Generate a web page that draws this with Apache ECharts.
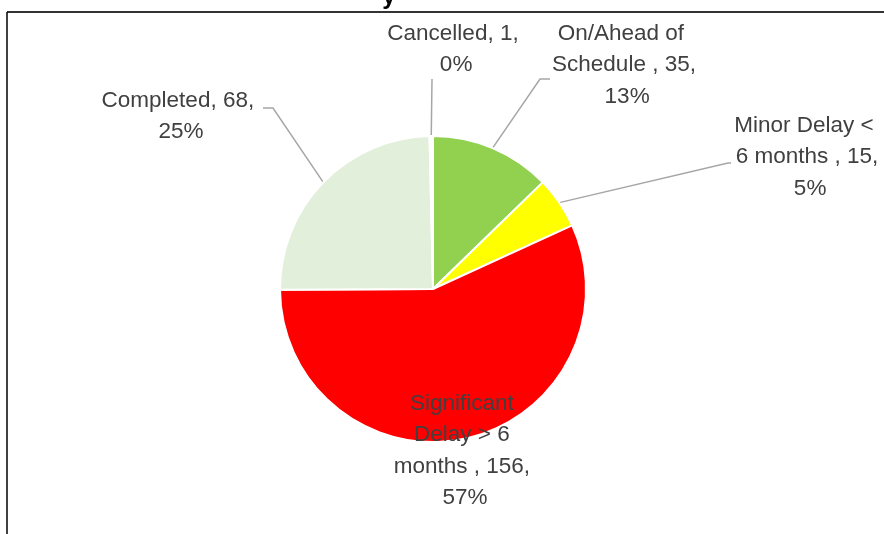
<!DOCTYPE html>
<html>
<head>
<meta charset="utf-8">
<script src="https://cdn.jsdelivr.net/npm/echarts@6/dist/echarts.min.js"></script>
<style>
  html, body { margin: 0; padding: 0; background: #fff; }
  #main { width: 884px; height: 534px; }
</style>
</head>
<body>
<div id="main"></div>
<script>
// data, clockwise from 12 o'clock
var categories = ["On/Ahead of Schedule ", "Minor Delay < 6 months ", "Significant Delay > 6 months ", "Completed", "Cancelled"];
var counts = [35, 15, 156, 68, 1];

var sliceColors = ["#92D050", "#FFFF00", "#FF0000", "#E2EFDA", "#FFFFFF"];

// pie geometry (px)
var CX = 433, CY = 289, R = 153;

// label boxes: centre x, top y, wrap width, leader line bend/end
var labelBox = [
  { x: 624, y: 18, w: 150, line: [[540, 79], [550, 79]] },
  { x: 807, y: 110, w: 148, line: [[728, 163], [731, 163]] },
  { x: 465, y: 388, w: 145, line: null },
  { x: 181, y: 85, w: 160, line: [[273, 108], [263, 108]] },
  { x: 453, y: 18, w: 135, line: [[432, 79], [432, 79]] }
];

var total = counts.reduce(function (a, b) { return a + b; }, 0);
function midAngle(i) {
  var before = 0;
  for (var k = 0; k < i; k++) before += counts[k];
  return (before + counts[i] / 2) / total * Math.PI * 2;
}

var myChart = echarts.init(document.getElementById("main"));
myChart.setOption({
  animation: false,
  graphic: [
    { type: "line", shape: { x1: 7, y1: 12, x2: 884, y2: 12 }, style: { stroke: "#333", lineWidth: 2 } },
    { type: "line", shape: { x1: 7, y1: 12, x2: 7, y2: 534 }, style: { stroke: "#000", lineWidth: 1.5 } },
    { type: "text", x: 389, y: 9, style: { text: "y", font: "bold 24px 'Liberation Sans', Arial", fill: "#000", align: "center", verticalAlign: "bottom" } }
  ],
  series: [
    {
      type: "pie",
      center: [CX, CY],
      radius: R,
      startAngle: 90,
      clockwise: true,
      percentPrecision: 0,
      avoidLabelOverlap: false,
      itemStyle: { borderColor: "#fff", borderWidth: 2 },
      label: {
        show: true,
        position: "outside",
        formatter: "{b}, {c}, {d}%",
        fontFamily: "'Liberation Sans', Arial",
        fontSize: 22.5,
        lineHeight: 31.5,
        color: "#404040",
        overflow: "break"
      },
      labelLine: {
        show: true,
        lineStyle: { color: "#A6A6A6", width: 1.5 }
      },
      labelLayout: function (p) {
        var i = p.dataIndex, L = labelBox[i];
        var out = { x: L.x, y: L.y, align: "center", verticalAlign: "top" };
        if (L.line) {
          var a = midAngle(i);
          var e = [CX + R * Math.sin(a), CY - R * Math.cos(a)];
          out.labelLinePoints = [e].concat(L.line);
        }
        return out;
      },
      data: categories.map(function (name, i) {
        return {
          name: name,
          value: counts[i],
          itemStyle: { color: sliceColors[i] },
          label: { width: labelBox[i].w },
          labelLine: { show: !!labelBox[i].line }
        };
      })
    }
  ]
});
</script>
</body>
</html>
